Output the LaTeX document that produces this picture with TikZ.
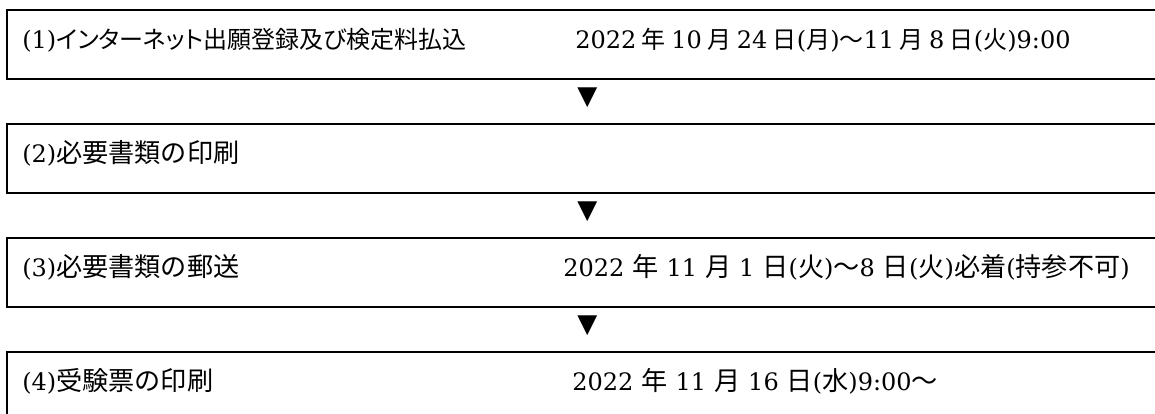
\documentclass[tikz,border=0pt]{standalone}
\usepackage{fontspec}
\setmainfont{DejaVu Serif}
\newfontfamily\jpfont{Noto Sans CJK JP}[Scale=1.09]
\newfontfamily\jpsmall{Noto Sans CJK JP}[Scale=1.0]
\newfontfamily\jpnarrow{Noto Sans CJK JP}[Scale=1.0,RawFeature=+palt]
\newfontfamily\symfont{DejaVu Sans}
\newcommand{\gap}{\hspace{5.5pt}}
\usetikzlibrary{positioning,calc}
\tikzstyle{block} = [draw, line width=2pt, rectangle,
    minimum height=69pt, minimum width=1154pt,
    inner xsep=15pt, inner ysep=0pt, text width=1124pt, align=left,
    text height=38pt, text depth=31pt, font=\fontsize{24}{30}\selectfont]
\tikzstyle{pointer} = [inner sep=0pt, font=\symfont\fontsize{26}{26}\selectfont]

\begin{document}
\begin{tikzpicture}[auto, node distance=114pt]
  \useasboundingbox (0,0) rectangle (1155pt,-413pt);
  \clip (0,0) rectangle (1155pt,-413pt);

  \node [block] (apply) at (584.3pt,-44.5pt) {\makebox[553pt][l]{(1){\jpnarrow インターネット出願登録及び検定料払込}}2022\gap{\jpsmall 年}\gap10\gap{\jpsmall 月}\gap24\gap{\jpsmall 日}({\jpsmall 月}){\jpsmall ～}11\gap{\jpsmall 月}\gap8\gap{\jpsmall 日}({\jpsmall 火})9:00};
  \node [block,below of=apply] (print) {(2){\jpfont 必要書類の印刷}};
  \node [block,below of=print] (mail) {\makebox[541pt][l]{(3){\jpfont 必要書類の郵送}}2022 {\jpfont 年} 11 {\jpfont 月} 1 {\jpfont 日}({\jpfont 火}){\jpfont ～}8 {\jpfont 日}({\jpfont 火}){\jpfont 必着}({\jpfont 持参不可})};
  \node [block,below of=mail] (ticket) {\makebox[550pt][l]{(4){\jpfont 受験票の印刷}}2022 {\jpfont 年} 11 {\jpfont 月} 16 {\jpfont 日}({\jpfont 水})9:00{\jpfont ～}};

  % down marks between the steps
  \node [pointer] (arr1) at ($(apply.south)!0.5!(print.north)+(3pt,4pt)$) {▼};
  \node [pointer] (arr2) at ($(print.south)!0.5!(mail.north)+(3pt,4pt)$) {▼};
  \node [pointer] (arr3) at ($(mail.south)!0.5!(ticket.north)+(3pt,4pt)$) {▼};

\end{tikzpicture}
\end{document}
